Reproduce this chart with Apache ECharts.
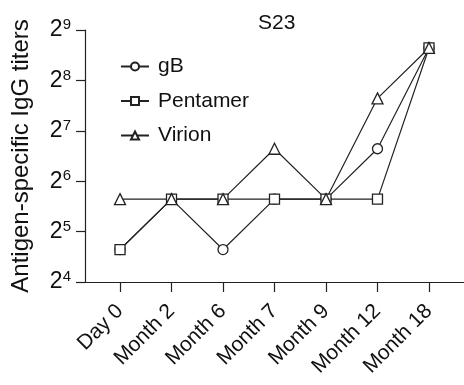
<!DOCTYPE html>
<html><head><meta charset="utf-8">
<script src="https://cdn.jsdelivr.net/npm/echarts@6/dist/echarts.min.js"></script>
<style>html,body{margin:0;padding:0;background:#fff}#c{width:464px;height:385px}</style>
</head><body><div id="c"></div>
<script>
const categories = ['Day 0','Month 2','Month 6','Month 7','Month 9','Month 12','Month 18'];
const gB =       [25, 50, 25, 50, 50, 100, 400];
const pentamer = [25, 50, 50, 50, 50, 50, 400];
const virion =   [50, 50, 50, 100, 50, 200, 400];

const F = 'Arial, "Liberation Sans", sans-serif';
const C = '#222';
const chart = echarts.init(document.getElementById('c'));
const idx = categories.map((_, i) => i);
function pts(arr){ return arr.map((v,i)=>[i,v]); }
function mk(name, data, symbol, size){
  return {name, type:'line', data:pts(data), symbol, symbolSize:size,
    lineStyle:{color:C,width:1.2}, itemStyle:{color:'#fff',borderColor:C,borderWidth:1.3},
    emphasis:{disabled:true}, animation:false};
}
chart.setOption({
  animation:false,
  title:{text:'S23', left:253, top:8, textStyle:{fontFamily:F,fontSize:21,fontWeight:'normal',color:'#111'}},
  legend:{orient:'vertical', left:115, top:51, itemWidth:28, itemHeight:10, itemGap:13.5,
    textStyle:{fontFamily:F,fontSize:21,color:'#111',padding:[0,0,0,4]},
    data:['gB','Pentamer','Virion']},
  grid:{left:85, right:0, top:30, bottom:103, outerBoundsMode:'none'},
  xAxis:{type:'value', min:-0.68, max:6.68,
    axisLine:{onZero:false,lineStyle:{color:C,width:1.2}},
    axisTick:{show:true, customValues:idx, length:10, lineStyle:{color:C,width:1.2}},
    axisLabel:{customValues:idx, rotate:45, fontFamily:F, fontSize:21, color:'#111', margin:26,
      formatter:v=>categories[Math.round(v)]},
    splitLine:{show:false}},
  yAxis:{type:'log', logBase:2, min:16, max:512,
    name:'Antigen-specific IgG titers', nameLocation:'middle', nameGap:52,
    nameTextStyle:{fontFamily:F,fontSize:24,color:'#111'},
    axisLine:{show:true,onZero:false,lineStyle:{color:C,width:1.2}},
    axisTick:{show:true,length:9,lineStyle:{color:C,width:1.2}},
    splitLine:{show:false},
    axisLabel:{margin:14, formatter:v=>{const e=Math.round(Math.log2(v)); return '{b|2}{s|'+e+'}';},
      rich:{b:{fontFamily:F,fontSize:23,color:'#111'},s:{fontFamily:F,fontSize:15,color:'#111',verticalAlign:'top',padding:[0,0,10,0]}}}},
  series:[mk('gB',gB,'circle',10), mk('Pentamer',pentamer,'rect',10), mk('Virion',virion,'triangle',11)]
});
</script></body></html>
